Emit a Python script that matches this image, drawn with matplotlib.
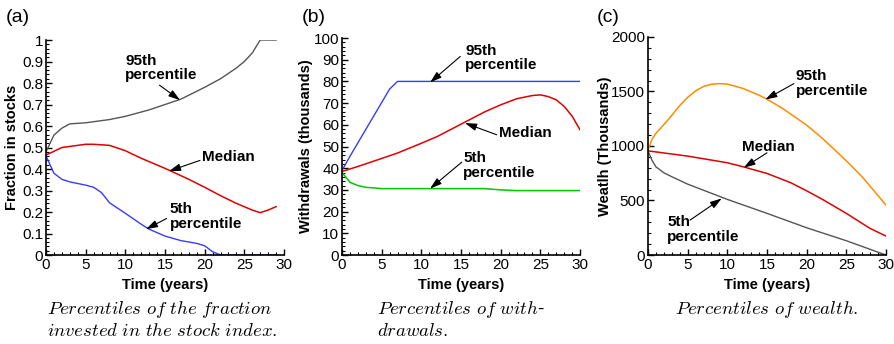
import numpy as np
import matplotlib
matplotlib.use('Agg')
import matplotlib.pyplot as plt
from matplotlib.ticker import MultipleLocator

plt.rcParams['font.family'] = ['Liberation Sans', 'DejaVu Sans']
plt.rcParams['mathtext.fontset'] = 'cm'

# (a) fraction in stocks
years_a = [0, 1, 2, 3, 5, 8, 10, 13, 15, 17, 20, 22, 24, 25, 26, 27, 28, 29]
frac_p95 = [0.48, 0.558, 0.59, 0.61, 0.615, 0.63, 0.645, 0.675, 0.70, 0.725,
            0.78, 0.82, 0.87, 0.90, 0.94, 1.0, 1.0, 1.0]
years_a_med = [0, 2, 5, 6, 8, 10, 12, 15, 18, 20, 22, 24, 26, 27, 28, 29]
frac_med = [0.465, 0.50, 0.515, 0.515, 0.51, 0.485, 0.45, 0.403, 0.352, 0.315,
            0.276, 0.24, 0.209, 0.197, 0.209, 0.225]
years_a_p5 = [0, 1, 2, 3, 5, 6, 7, 8, 10, 12, 13, 15, 17, 19, 20, 21, 22, 29]
frac_p5 = [0.46, 0.38, 0.352, 0.34, 0.325, 0.315, 0.29, 0.243, 0.194, 0.143,
           0.12, 0.088, 0.067, 0.054, 0.043, 0.015, 0.0, 0.0]

# (b) withdrawals (thousands)
years_b_p95 = [0, 1, 6, 7, 30]
wd_p95 = [39, 45.5, 76.5, 80, 80]
years_b_med = [0, 2, 5, 7, 10, 12, 15, 18, 20, 22, 24, 25, 26, 27, 28, 29, 30]
wd_med = [38.5, 40.8, 44.5, 47, 51.5, 54.6, 60.3, 66, 69.2, 72, 73.5, 73.8,
          73, 71.5, 68.5, 64, 57.7]
years_b_p5 = [0, 1, 2, 3, 5, 10, 15, 18, 20, 22, 30]
wd_p5 = [38, 33.5, 32, 31.2, 30.6, 30.6, 30.6, 30.6, 30, 29.7, 29.7]

# (c) wealth (thousands)
years_c_p95 = [0, 0.5, 1, 2, 3, 4, 5, 6, 7, 8, 9, 10, 12, 14, 15, 17, 20, 22, 25, 27, 30]
w_p95 = [960, 1060, 1115, 1195, 1280, 1370, 1445, 1505, 1545, 1566, 1572, 1568,
         1527, 1466, 1429, 1343, 1191, 1069, 864, 718, 458]
years_c_med = [0, 5, 10, 12, 15, 18, 20, 22, 25, 28, 30]
w_med = [955, 907, 846, 809, 748, 663, 589, 510, 382, 244, 174]
years_c_p5 = [0, 0.5, 1, 2, 3, 5, 10, 15, 20, 25, 30]
w_p5 = [955, 870, 809, 754, 718, 650, 510, 382, 250, 131, 0]

RED = '#e00000'
BLUE = '#3a3aff'
GREEN = '#00c800'
ORANGE = '#ff8c00'
GRAY = '#555555'


def style_axes(ax, ymax, ymajor, yminor, ylabel, ylab_x):
    ax.set_xlim(0, 30)
    ax.set_ylim(0, ymax)
    ax.xaxis.set_major_locator(MultipleLocator(5))
    ax.xaxis.set_minor_locator(MultipleLocator(1))
    ax.yaxis.set_major_locator(MultipleLocator(ymajor))
    ax.yaxis.set_minor_locator(MultipleLocator(yminor))
    for s in ['top', 'right']:
        ax.spines[s].set_visible(False)
    for s in ['left', 'bottom']:
        ax.spines[s].set_linewidth(1.2)
    ax.tick_params(which='both', direction='in', top=False, right=False,
                   labelsize=11, pad=2)
    ax.tick_params(which='major', length=4.5, width=1.0)
    ax.tick_params(which='minor', length=2.2, width=0.8)
    ax.set_xlabel('Time (years)', fontsize=10.5, fontweight='bold')
    ax.set_ylabel(ylabel, fontsize=10.5, fontweight='bold')
    ax.xaxis.set_label_coords(0.5, -0.105)
    ax.yaxis.set_label_coords(ylab_x, 0.5)


def note(ax, text, pos, tail, head):
    ax.text(pos[0], pos[1], text, ha='left', va='center', fontsize=11,
            fontweight='bold', linespacing=1.05)
    ax.annotate('', xy=head, xytext=tail,
                arrowprops=dict(arrowstyle='-|>,head_length=0.7,head_width=0.22',
                                color='black', lw=0.8, shrinkA=0, shrinkB=0))


fig = plt.figure(figsize=(8.94, 3.44), dpi=100)

ax1 = fig.add_axes([0.0515, 0.2587, 0.2662, 0.625])
ax1.plot(years_a, frac_p95, color=GRAY, lw=1.0)
ax1.plot(years_a_med, frac_med, color=RED, lw=1.1)
ax1.plot(years_a_p5, frac_p5, color=BLUE, lw=1.0)
style_axes(ax1, 1.0, 0.1, 0.02, 'Fraction in stocks', -0.113)
ax1.set_yticks(np.arange(0, 1.01, 0.1))
ax1.set_yticklabels(['0', '0.1', '0.2', '0.3', '0.4', '0.5', '0.6', '0.7',
                     '0.8', '0.9', '1'])
note(ax1, '95th\npercentile', (10.0, 0.87), (14.3, 0.79), (16.9, 0.72))
note(ax1, 'Median', (19.6, 0.457), (19.4, 0.44), (15.5, 0.39))
note(ax1, '5th\npercentile', (15.6, 0.178), (15.2, 0.17), (12.6, 0.12))

ax2 = fig.add_axes([0.3826, 0.2587, 0.2662, 0.6308])
ax2.plot(years_b_p95, wd_p95, color=BLUE, lw=1.0)
ax2.plot(years_b_med, wd_med, color=RED, lw=1.1)
ax2.plot(years_b_p5, wd_p5, color=GREEN, lw=1.1)
style_axes(ax2, 100, 10, 2, 'Withdrawals (thousands)', -0.122)
note(ax2, '95th\npercentile', (15.5, 90.8), (14.9, 91.5), (11.1, 79.5))
note(ax2, 'Median', (19.8, 56.2), (19.5, 55.4), (15.5, 60.8))
note(ax2, '5th\npercentile', (15.3, 41.2), (15.1, 42.8), (11.1, 30.6))

ax3 = fig.add_axes([0.7248, 0.2587, 0.2662, 0.634])
ax3.plot(years_c_p95, w_p95, color=ORANGE, lw=1.1)
ax3.plot(years_c_med, w_med, color=RED, lw=1.1)
ax3.plot(years_c_p5, w_p5, color=GRAY, lw=1.0)
style_axes(ax3, 2000, 500, 100, 'Weatlh (Thousands)', -0.151)
note(ax3, '95th\npercentile', (18.6, 1572), (18.4, 1572), (14.8, 1426))
note(ax3, 'Median', (11.85, 992), (15.0, 937), (12.06, 800))
note(ax3, '5th\npercentile', (2.4, 235), (5.3, 320), (9.3, 519))

# panel letters
fig.text(0.006, 0.95, '(a)', fontsize=14, va='center')
fig.text(0.338, 0.95, '(b)', fontsize=14, va='center')
fig.text(0.668, 0.95, '(c)', fontsize=14, va='center')

# captions
cap = dict(fontsize=13.5, va='center')
fig.text(47 / 894, 1 - 310 / 344, r'$\mathit{Percentiles\ of\ the\ fraction}$', ha='left', **cap)
fig.text(47 / 894, 1 - 332 / 344, r'$\mathit{invested\ in\ the\ stock\ index.}$', ha='left', **cap)
fig.text(377 / 894, 1 - 309 / 344, r'$\mathit{Percentiles\ of\ with}$-', ha='left', **cap)
fig.text(377 / 894, 1 - 331 / 344, r'$\mathit{drawals.}$', ha='left', **cap)
fig.text(767 / 894, 1 - 309 / 344, r'$\mathit{Percentiles\ of\ wealth.}$', ha='center', **cap)

fig.savefig('out.png', dpi=100)
